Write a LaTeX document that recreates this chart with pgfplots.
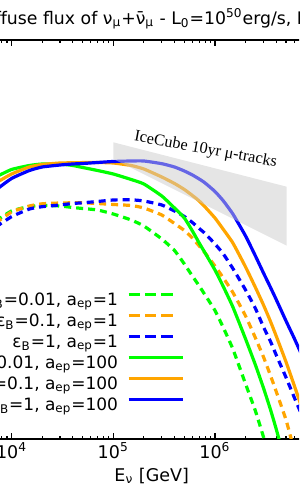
\documentclass[border=0pt]{standalone}
\usepackage{pgfplots}
\pgfplotsset{compat=1.18}
\usepackage{fontspec}
\setmainfont{DejaVu Sans}
\newfontfamily\icfont{Liberation Serif}
\definecolor{cgreen}{RGB}{0,255,0}
\definecolor{corange}{RGB}{255,165,0}
\definecolor{cblue}{RGB}{0,0,255}
\definecolor{cband}{RGB}{204,204,204}
\begin{document}
\fontsize{8.75}{10}\selectfont
\begin{tikzpicture}[font=\fontsize{8.75}{10}\selectfont]
\path[use as bounding box] (25.85pt,-25.5pt) rectangle (175.35pt,219.5pt);
\clip (25.85pt,-25.5pt) rectangle (175.35pt,219.5pt);
\begin{axis}[
  at={(0pt,0pt)}, anchor=south west,
  scale only axis, width=203.4pt, height=199.5pt,
  xmode=log, xmin=2388, xmax=2.388e7, ymin=-9.99, ymax=-6,
  xtick={1e4,1e5,1e6,1e7},
  xticklabels={{10\textsuperscript{4}},{10\textsuperscript{5}},{10\textsuperscript{6}},{10\textsuperscript{7}}},
  minor xtick={3e3,4e3,5e3,6e3,7e3,8e3,9e3,2e4,3e4,4e4,5e4,6e4,7e4,8e4,9e4,2e5,3e5,4e5,5e5,6e5,7e5,8e5,9e5,2e6,3e6,4e6,5e6,6e6,7e6,8e6,9e6},
  ytick=\empty,
  tick align=inside, xtick pos=both,
  major tick length=3.2pt, minor tick length=1.7pt,
  axis line style={line width=0.6pt},
  tick style={line width=0.6pt, black},
  xticklabel style={inner sep=0pt, yshift=-1.4pt, font=\fontsize{8.75}{10}\selectfont},
  legend plot pos=right, legend cell align=right,
  legend image code/.code={\draw[#1] (0pt,3.7pt) -- (27pt,3.7pt);},
  legend style={at={(axis cs:4.99e5,-8.517)}, anchor=north east, draw=none, fill=none,
    inner sep=0pt, outer sep=0pt, row sep=0pt, column sep=4.5pt,
    nodes={inner sep=0pt, text height=7pt, text depth=3.5pt},
    font=\fontsize{8.5}{10}\selectfont},
  every axis plot/.append style={line width=1.6pt, smooth, tension=0.3},
]
% a_ep = 1 (dashed)
\addplot[cgreen, dash pattern=on 3.5pt off 2.5pt,
  legend image post style={dash pattern=on 5.5pt off 2.7pt on 5.5pt off 2.7pt on 5.6pt off 10pt}] coordinates {
(7e3,-7.81) (1e4,-7.71) (1.5e4,-7.665) (2e4,-7.655) (3e4,-7.66) (4e4,-7.675) (5e4,-7.685) (7e4,-7.70)
(1e5,-7.74) (1.5e5,-7.80) (2e5,-7.86) (3e5,-7.99) (4e5,-8.105) (5e5,-8.24) (6e5,-8.36) (7e5,-8.46)
(8e5,-8.55) (1e6,-8.705) (1.2e6,-8.87) (1.5e6,-9.09) (2e6,-9.44) (2.5e6,-9.71) (3e6,-9.97) (3.5e6,-10.20)};
\addlegendentry{ε\textsubscript{B}=0.01, a\textsubscript{ep}=1}
\addplot[corange, dash pattern=on 3.5pt off 2.5pt,
  legend image post style={dash pattern=on 5.5pt off 2.7pt on 5.5pt off 2.7pt on 5.6pt off 10pt}] coordinates {
(7e3,-7.83) (1e4,-7.72) (1.5e4,-7.66) (2e4,-7.638) (3e4,-7.63) (4e4,-7.628) (5e4,-7.628) (7e4,-7.635)
(1e5,-7.645) (1.5e5,-7.655) (2e5,-7.68) (3e5,-7.75) (4e5,-7.835) (5e5,-7.905) (6e5,-7.98) (7e5,-8.06)
(8e5,-8.13) (1e6,-8.26) (1.2e6,-8.375) (1.5e6,-8.525) (2e6,-8.76) (2.5e6,-8.98) (3e6,-9.17) (3.5e6,-9.35)
(4e6,-9.515) (5e6,-9.80) (6e6,-10.10)};
\addlegendentry{ε\textsubscript{B}=0.1, a\textsubscript{ep}=1}
\addplot[cblue, dash pattern=on 3.5pt off 2.5pt,
  legend image post style={dash pattern=on 5.5pt off 2.7pt on 5.5pt off 2.7pt on 5.6pt off 10pt}] coordinates {
(7e3,-7.87) (1e4,-7.767) (1.5e4,-7.69) (2e4,-7.667) (3e4,-7.65) (4e4,-7.635) (5e4,-7.628) (7e4,-7.615)
(1e5,-7.60) (1.5e5,-7.598) (2e5,-7.61) (3e5,-7.65) (4e5,-7.71) (5e5,-7.765) (6e5,-7.825) (7e5,-7.885)
(8e5,-7.935) (1e6,-8.04) (1.2e6,-8.135) (1.5e6,-8.285) (2e6,-8.50) (2.5e6,-8.685) (3e6,-8.87) (3.5e6,-9.01)
(4e6,-9.15) (5e6,-9.375) (6e6,-9.57) (7e6,-9.73) (8e6,-9.88)};
\addlegendentry{ε\textsubscript{B}=1, a\textsubscript{ep}=1}
% a_ep = 100 (solid)
\addplot[cgreen] coordinates {
(7e3,-7.37) (1e4,-7.295) (1.5e4,-7.255) (2e4,-7.24) (3e4,-7.24) (4e4,-7.255) (5e4,-7.275) (7e4,-7.305)
(1e5,-7.34) (1.5e5,-7.395) (2e5,-7.44) (3e5,-7.56) (4e5,-7.68) (5e5,-7.78) (6e5,-7.91) (7e5,-8.03)
(8e5,-8.13) (1e6,-8.30) (1.2e6,-8.46) (1.5e6,-8.67) (2e6,-8.99) (2.5e6,-9.25) (3e6,-9.48) (3.5e6,-9.69)
(4e6,-9.89) (5e6,-10.25)};
\addlegendentry{ε\textsubscript{B}=0.01, a\textsubscript{ep}=100}
\addplot[corange] coordinates {
(7e3,-7.43) (1e4,-7.34) (1.5e4,-7.27) (2e4,-7.245) (3e4,-7.23) (4e4,-7.228) (5e4,-7.226) (7e4,-7.225)
(1e5,-7.23) (1.5e5,-7.255) (2e5,-7.29) (3e5,-7.37) (4e5,-7.435) (5e5,-7.495) (6e5,-7.555) (7e5,-7.61)
(8e5,-7.67) (1e6,-7.78) (1.2e6,-7.89) (1.5e6,-8.03) (2e6,-8.27) (2.5e6,-8.475) (3e6,-8.65) (3.5e6,-8.81)
(4e6,-8.96) (5e6,-9.22) (6e6,-9.45) (7e6,-9.65)};
\addlegendentry{ε\textsubscript{B}=0.1, a\textsubscript{ep}=100}
\addplot[cblue] coordinates {
(7e3,-7.50) (1e4,-7.385) (1.5e4,-7.305) (2e4,-7.27) (3e4,-7.25) (4e4,-7.24) (5e4,-7.235) (7e4,-7.225)
(1e5,-7.215) (1.5e5,-7.21) (2e5,-7.21) (3e5,-7.237) (4e5,-7.27) (5e5,-7.31) (6e5,-7.35) (7e5,-7.39)
(8e5,-7.43) (1e6,-7.515) (1.2e6,-7.605) (1.5e6,-7.74) (2e6,-7.96) (2.5e6,-8.16) (3e6,-8.33) (3.5e6,-8.47)
(4e6,-8.595) (5e6,-8.81) (6e6,-8.98) (7e6,-9.13)};
\addlegendentry{ε\textsubscript{B}=1, a\textsubscript{ep}=100}
% IceCube band
\addplot[draw=none, fill=cband, fill opacity=0.5, forget plot, sharp plot] coordinates {
(1e5,-7.023) (5.07e6,-7.467) (5.07e6,-8.057) (1e5,-7.19)} -- cycle;
\node[font=\icfont\fontsize{8.1}{9}\selectfont, anchor=base west, rotate=-10.3, inner sep=0pt]
  at (axis cs:1.58e5,-7.007) {IceCube 10yr μ-tracks};
\end{axis}
\node[anchor=base west, inner sep=0pt, font=\fontsize{8.65}{10}\selectfont] at (26.1pt,207pt)
  {\llap{Dif}fuse flux of ν\textsubscript{μ}+ν̄\textsubscript{μ} - L\textsubscript{0}=10\textsuperscript{50}erg/s, Γ};
\node[anchor=base, inner sep=0pt] at (101.7pt,-21.35pt) {E\textsubscript{ν} [GeV]};
\end{tikzpicture}
\end{document}
